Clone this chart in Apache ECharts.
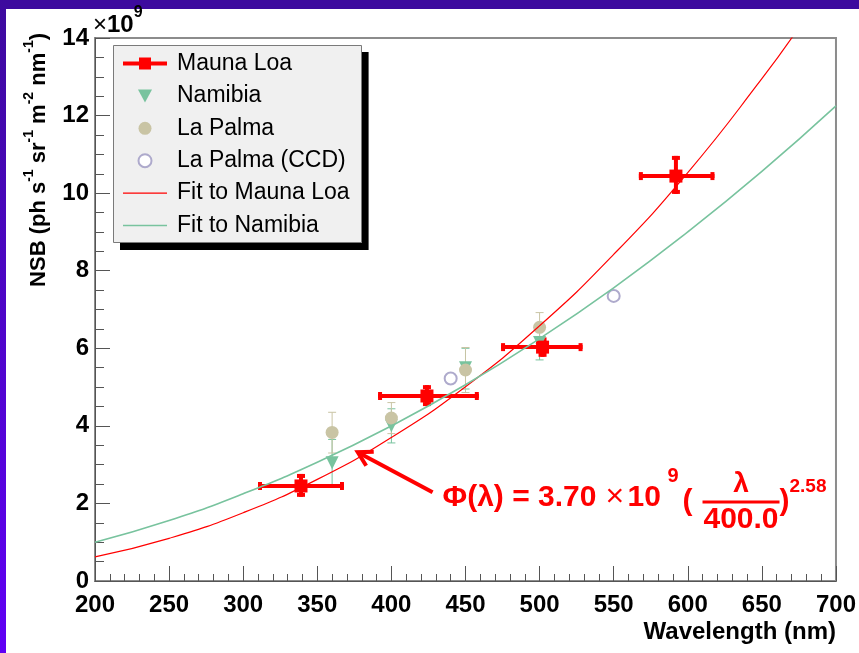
<!DOCTYPE html>
<html>
<head>
<meta charset="utf-8">
<script src="https://cdn.jsdelivr.net/npm/echarts@6/dist/echarts.min.js"></script>
<style>
  html, body { margin: 0; padding: 0; background: #ffffff; }
  #wrap { position: relative; width: 859px; height: 653px; background: #ffffff; overflow: hidden; }
  #topbar { position: absolute; left: 0; top: 0; width: 859px; height: 9px; background: #3d0a9e; }
  #leftbar { position: absolute; left: 0; top: 0; width: 6px; height: 653px; background: linear-gradient(#3d0a9e, #6000f5); }
  #chart { position: absolute; left: 0; top: 0; width: 859px; height: 653px; }
</style>
</head>
<body>
<div id="wrap">
  <div id="topbar"></div>
  <div id="leftbar"></div>
  <div id="chart"></div>
</div>
<script>
// ---------------- data (wavelength in nm, NSB in units of 1e9) ----------------
const maunaLoaX     = [339, 424, 502, 592];
const maunaLoaY     = [2.45, 4.77, 6.03, 10.44];
const maunaLoaXLow  = [310, 391, 474, 567];
const maunaLoaXHigh = [368, 459, 529, 618];
const maunaLoaYLow  = [2.17, 4.51, 5.78, 9.98];
const maunaLoaYHigh = [2.76, 5.05, 6.28, 10.96];

const namibiaX     = [360, 400, 450, 500];
const namibiaY     = [3.05, 4.00, 5.50, 6.15];
const namibiaYLow  = [2.45, 3.56, 4.95, 5.70];
const namibiaYHigh = [3.65, 4.44, 6.00, 6.60];

const laPalmaX     = [360, 400, 450, 500];
const laPalmaY     = [3.83, 4.20, 5.44, 6.54];
const laPalmaYLow  = [3.30, 3.80, 4.86, 6.12];
const laPalmaYHigh = [4.35, 4.60, 6.02, 6.92];

const laPalmaCcdX = [440, 550];
const laPalmaCcdY = [5.22, 7.35];

const fitMaunaLoaX = [200, 250, 300, 350, 400, 450, 500, 550, 600, 650, 675];
const fitMaunaLoaY = [0.62, 1.10, 1.76, 2.62, 3.70, 5.01, 6.58, 8.42, 10.53, 12.95, 14.27];

const fitNamibiaX = [200, 250, 300, 350, 400, 450, 500, 550, 600, 650, 700];
const fitNamibiaY = [1.00, 1.56, 2.25, 3.06, 4.00, 5.06, 6.25, 7.56, 9.00, 10.56, 12.25];

const xTicks = { min: 200, max: 700, interval: 50 };
const yTicks = { min: 0, max: 14, interval: 2 };

const seriesNames = ['Mauna Loa', 'Namibia', 'La Palma', 'La Palma (CCD)', 'Fit to Mauna Loa', 'Fit to Namibia'];

// annotation anchors in data coordinates
const formulaAnchor = [434.5, 2.14];
const arrowFrom = [427.8, 2.29];
const arrowTo   = [377.3, 3.32];

// ---------------- styling ----------------
const FONT = '"Liberation Sans", Arial, Helvetica, sans-serif';
const RED = '#ff0000';
const GREEN = '#78c39e';
const TAN = '#c9c4a4';
const CCD = '#aeaacc';

const zip = (a, b) => a.map((v, i) => [v, b[i]]);

const maunaLoaErr = maunaLoaX.map((x, i) => [x, maunaLoaY[i], maunaLoaXLow[i], maunaLoaXHigh[i], maunaLoaYLow[i], maunaLoaYHigh[i]]);
const namibiaErr = namibiaX.map((x, i) => [x, namibiaY[i], namibiaYLow[i], namibiaYHigh[i]]);
const laPalmaErr = laPalmaX.map((x, i) => [x, laPalmaY[i], laPalmaYLow[i], laPalmaYHigh[i]]);

function xyErrRenderer(color, lw, cap, capW) {
  return function (params, api) {
    const x = api.value(0), y = api.value(1);
    const xl = api.coord([api.value(2), y]);
    const xh = api.coord([api.value(3), y]);
    const yl = api.coord([x, api.value(4)]);
    const yh = api.coord([x, api.value(5)]);
    const st = { stroke: color, lineWidth: lw };
    const cs = { stroke: color, lineWidth: capW };
    return {
      type: 'group',
      children: [
        { type: 'line', shape: { x1: xl[0], y1: xl[1], x2: xh[0], y2: xh[1] }, style: st },
        { type: 'line', shape: { x1: yl[0], y1: yl[1], x2: yh[0], y2: yh[1] }, style: st },
        { type: 'line', shape: { x1: xl[0] + capW / 2, y1: xl[1] - cap, x2: xl[0] + capW / 2, y2: xl[1] + cap }, style: cs },
        { type: 'line', shape: { x1: xh[0] - capW / 2, y1: xh[1] - cap, x2: xh[0] - capW / 2, y2: xh[1] + cap }, style: cs },
        { type: 'line', shape: { x1: yl[0] - cap, y1: yl[1] - capW / 2, x2: yl[0] + cap, y2: yl[1] - capW / 2 }, style: cs },
        { type: 'line', shape: { x1: yh[0] - cap, y1: yh[1] + capW / 2, x2: yh[0] + cap, y2: yh[1] + capW / 2 }, style: cs }
      ]
    };
  };
}

function yErrRenderer(color, lw, cap) {
  return function (params, api) {
    const x = api.value(0);
    const yl = api.coord([x, api.value(2)]);
    const yh = api.coord([x, api.value(3)]);
    const st = { stroke: color, lineWidth: lw };
    return {
      type: 'group',
      children: [
        { type: 'line', shape: { x1: yl[0], y1: yl[1], x2: yh[0], y2: yh[1] }, style: st },
        { type: 'line', shape: { x1: yl[0] - cap, y1: yl[1], x2: yl[0] + cap, y2: yl[1] }, style: st },
        { type: 'line', shape: { x1: yh[0] - cap, y1: yh[1], x2: yh[0] + cap, y2: yh[1] }, style: st }
      ]
    };
  };
}

const chart = echarts.init(document.getElementById('chart'), null, { renderer: 'canvas' });

const LEG = { left: 113, top: 45, w: 248, h: 197 };

const option = {
  backgroundColor: 'transparent',
  animation: false,
  grid: {
    left: 95, right: 22, top: 38, bottom: 72,
    show: true, borderColor: '#8c8c8c', borderWidth: 2, backgroundColor: '#ffffff'
  },
  legend: {
    orient: 'vertical',
    left: LEG.left, top: LEG.top,
    padding: [7, 12, 6, 10],
    itemWidth: 44, itemHeight: 13, itemGap: 9.4,
    backgroundColor: '#f0f0f0',
    borderWidth: 0,
    shadowColor: '#000000', shadowBlur: 0, shadowOffsetX: 7, shadowOffsetY: 7,
    textStyle: { fontFamily: FONT, fontSize: 23, color: '#000', padding: [0, 0, 0, 5] },
    selectedMode: false,
    data: [
      { name: seriesNames[0], icon: 'path://M0,4H16V0H28V4H44V8H28V12H16V8H0Z' },
      { name: seriesNames[1], icon: 'path://M0,0H13L6.5,12Z' },
      { name: seriesNames[2], icon: 'circle' },
      { name: seriesNames[3], icon: 'emptyCircle' },
      { name: seriesNames[4], icon: 'path://M0,0H44V1.2H0Z' },
      { name: seriesNames[5], icon: 'path://M0,0H44V1.6H0Z' }
    ]
  },
  xAxis: {
    type: 'value',
    min: xTicks.min, max: xTicks.max, interval: xTicks.interval,
    name: 'Wavelength (nm)',
    nameLocation: 'end', nameGap: 0,
    nameTextStyle: { fontFamily: FONT, fontSize: 24, fontWeight: 'bold', color: '#000', align: 'right', verticalAlign: 'top', padding: [39, 0, 0, 0] },
    axisLine: { show: true, lineStyle: { color: '#555', width: 1 } },
    axisTick: { show: true, inside: true, length: 15, lineStyle: { color: '#555' } },
    minorTick: { show: true, splitNumber: 5, length: 7, lineStyle: { color: '#555' } },
    splitLine: { show: false },
    axisLabel: { fontFamily: FONT, fontSize: 24, fontWeight: 'bold', color: '#000', margin: 12 }
  },
  yAxis: {
    type: 'value',
    min: yTicks.min, max: yTicks.max, interval: yTicks.interval,
    name: '{t|NSB (ph s}{s|-1}{t| sr}{s|-1}{t| m}{s|-2}{t| nm}{s|-1}{t|)}',
    nameLocation: 'end', nameGap: 5, nameRotate: 90,
    nameTextStyle: {
      align: 'right', verticalAlign: 'bottom', padding: [0, 0, 45, 0],
      rich: {
        t: { fontFamily: FONT, fontSize: 22, fontWeight: 'bold', color: '#000', lineHeight: 28, verticalAlign: 'bottom' },
        s: { fontFamily: FONT, fontSize: 14, fontWeight: 'bold', color: '#000', lineHeight: 14, verticalAlign: 'top' }
      }
    },
    axisLine: { show: true, lineStyle: { color: '#555', width: 1 } },
    axisTick: { show: true, inside: true, length: 15, lineStyle: { color: '#555' } },
    minorTick: { show: true, splitNumber: 4, length: 9, lineStyle: { color: '#555' } },
    splitLine: { show: false },
    axisLabel: { fontFamily: FONT, fontSize: 24, fontWeight: 'bold', color: '#000', margin: 6 }
  },
  series: [
    {
      name: 'ml-err', type: 'custom', renderItem: xyErrRenderer(RED, 4, 4, 4),
      data: maunaLoaErr, encode: { x: 0, y: 1 }, z: 3, silent: true
    },
    {
      name: 'nam-err', type: 'custom', renderItem: yErrRenderer(GREEN, 1, 4),
      data: namibiaErr, encode: { x: 0, y: 1 }, z: 2, silent: true
    },
    {
      name: 'lp-err', type: 'custom', renderItem: yErrRenderer(TAN, 1, 4),
      data: laPalmaErr, encode: { x: 0, y: 1 }, z: 2, silent: true
    },
    {
      name: seriesNames[0], type: 'scatter', symbol: 'rect', symbolSize: 13,
      itemStyle: { color: RED, opacity: 1 }, data: zip(maunaLoaX, maunaLoaY), z: 5
    },
    {
      name: seriesNames[1], type: 'scatter', symbol: 'triangle', symbolRotate: 180, symbolSize: 13,
      itemStyle: { color: GREEN, opacity: 1 }, data: zip(namibiaX, namibiaY), z: 4
    },
    {
      name: seriesNames[2], type: 'scatter', symbol: 'circle', symbolSize: 13,
      itemStyle: { color: TAN, opacity: 1 }, data: zip(laPalmaX, laPalmaY), z: 4
    },
    {
      name: seriesNames[3], type: 'scatter', symbol: 'emptyCircle', symbolSize: 12,
      itemStyle: { color: CCD, borderColor: CCD, borderWidth: 1.5, opacity: 1 }, data: zip(laPalmaCcdX, laPalmaCcdY), z: 4
    },
    {
      name: seriesNames[4], type: 'line', smooth: true, symbol: 'none', clip: true,
      lineStyle: { color: RED, width: 1.2 }, itemStyle: { color: RED },
      data: zip(fitMaunaLoaX, fitMaunaLoaY), z: 6
    },
    {
      name: seriesNames[5], type: 'line', smooth: true, symbol: 'none', clip: true,
      lineStyle: { color: GREEN, width: 1.6 }, itemStyle: { color: GREEN },
      data: zip(fitNamibiaX, fitNamibiaY), z: 6
    }
  ]
};

chart.setOption(option);

// ---------------- annotations (placed from data coordinates) ----------------
const anc = chart.convertToPixel({ gridIndex: 0 }, formulaAnchor);
const aF = chart.convertToPixel({ gridIndex: 0 }, arrowFrom);
const aT = chart.convertToPixel({ gridIndex: 0 }, arrowTo);
const ax = anc[0], ay = anc[1];

function redText(text, dx, dy, font, align) {
  return {
    type: 'text', x: ax + dx, y: ay + dy, z: 100,
    style: { text: text, font: font, fill: RED, align: align || 'left', verticalAlign: 'middle' }
  };
}

// arrow head
const ddx = aF[0] - aT[0], ddy = aF[1] - aT[1];
const len = Math.sqrt(ddx * ddx + ddy * ddy);
const ux = ddx / len, uy = ddy / len;
const headLen = 16, ang = 30 * Math.PI / 180;
function rot(x, y, a) { return [x * Math.cos(a) - y * Math.sin(a), x * Math.sin(a) + y * Math.cos(a)]; }
const r1 = rot(ux, uy, ang), r2 = rot(ux, uy, -ang);

const graphics = [
  // legend frame
  {
    type: 'rect', z: 100, silent: true,
    shape: { x: LEG.left + 0.5, y: LEG.top + 0.5, width: LEG.w, height: LEG.h },
    style: { fill: null, stroke: '#7a7a7a', lineWidth: 1 }
  },
  // ×10^9 axis multiplier
  {
    type: 'text', x: 93, y: 21, z: 100,
    style: {
      text: '{a|×}{b|10}{c|9}',
      verticalAlign: 'middle', align: 'left',
      rich: {
        a: { font: '24px ' + FONT, fill: '#000', lineHeight: 32, verticalAlign: 'bottom' },
        b: { font: 'bold 24px ' + FONT, fill: '#000', lineHeight: 32, verticalAlign: 'bottom' },
        c: { font: 'bold 16px ' + FONT, fill: '#000', lineHeight: 16, verticalAlign: 'top' }
      }
    }
  },
  // arrow
  {
    type: 'line', z: 100,
    shape: { x1: aF[0], y1: aF[1], x2: aT[0] + ux * 1, y2: aT[1] + uy * 1 },
    style: { stroke: RED, lineWidth: 4 }
  },
  {
    type: 'polyline', z: 100,
    shape: { points: [[aT[0] + r1[0] * headLen, aT[1] + r1[1] * headLen], [aT[0], aT[1]], [aT[0] + r2[0] * headLen, aT[1] + r2[1] * headLen]] },
    style: { stroke: RED, lineWidth: 4, fill: null, lineJoin: 'miter' }
  },
  // formula
  redText('Φ(λ) = 3.70', 0, 0, 'bold 30px ' + FONT),
  redText('×', 163, -1, '32px ' + FONT),
  redText('10', 185, 0, 'bold 30px ' + FONT),
  redText('9', 225, -22, 'bold 20px ' + FONT),
  redText('(', 240, 4, 'bold 30px ' + FONT),
  redText('λ', 298.5, -14, 'bold 28px ' + FONT, 'center'),
  {
    type: 'line', z: 100,
    shape: { x1: ax + 260, y1: ay + 4, x2: ax + 337, y2: ay + 4 },
    style: { stroke: RED, lineWidth: 3 }
  },
  redText('400.0', 298.5, 22, 'bold 30px ' + FONT, 'center'),
  redText(')', 337, 4, 'bold 30px ' + FONT),
  redText('2.58', 347, -11.5, 'bold 19px ' + FONT)
];

chart.setOption({ graphic: graphics });
</script>
</body>
</html>
